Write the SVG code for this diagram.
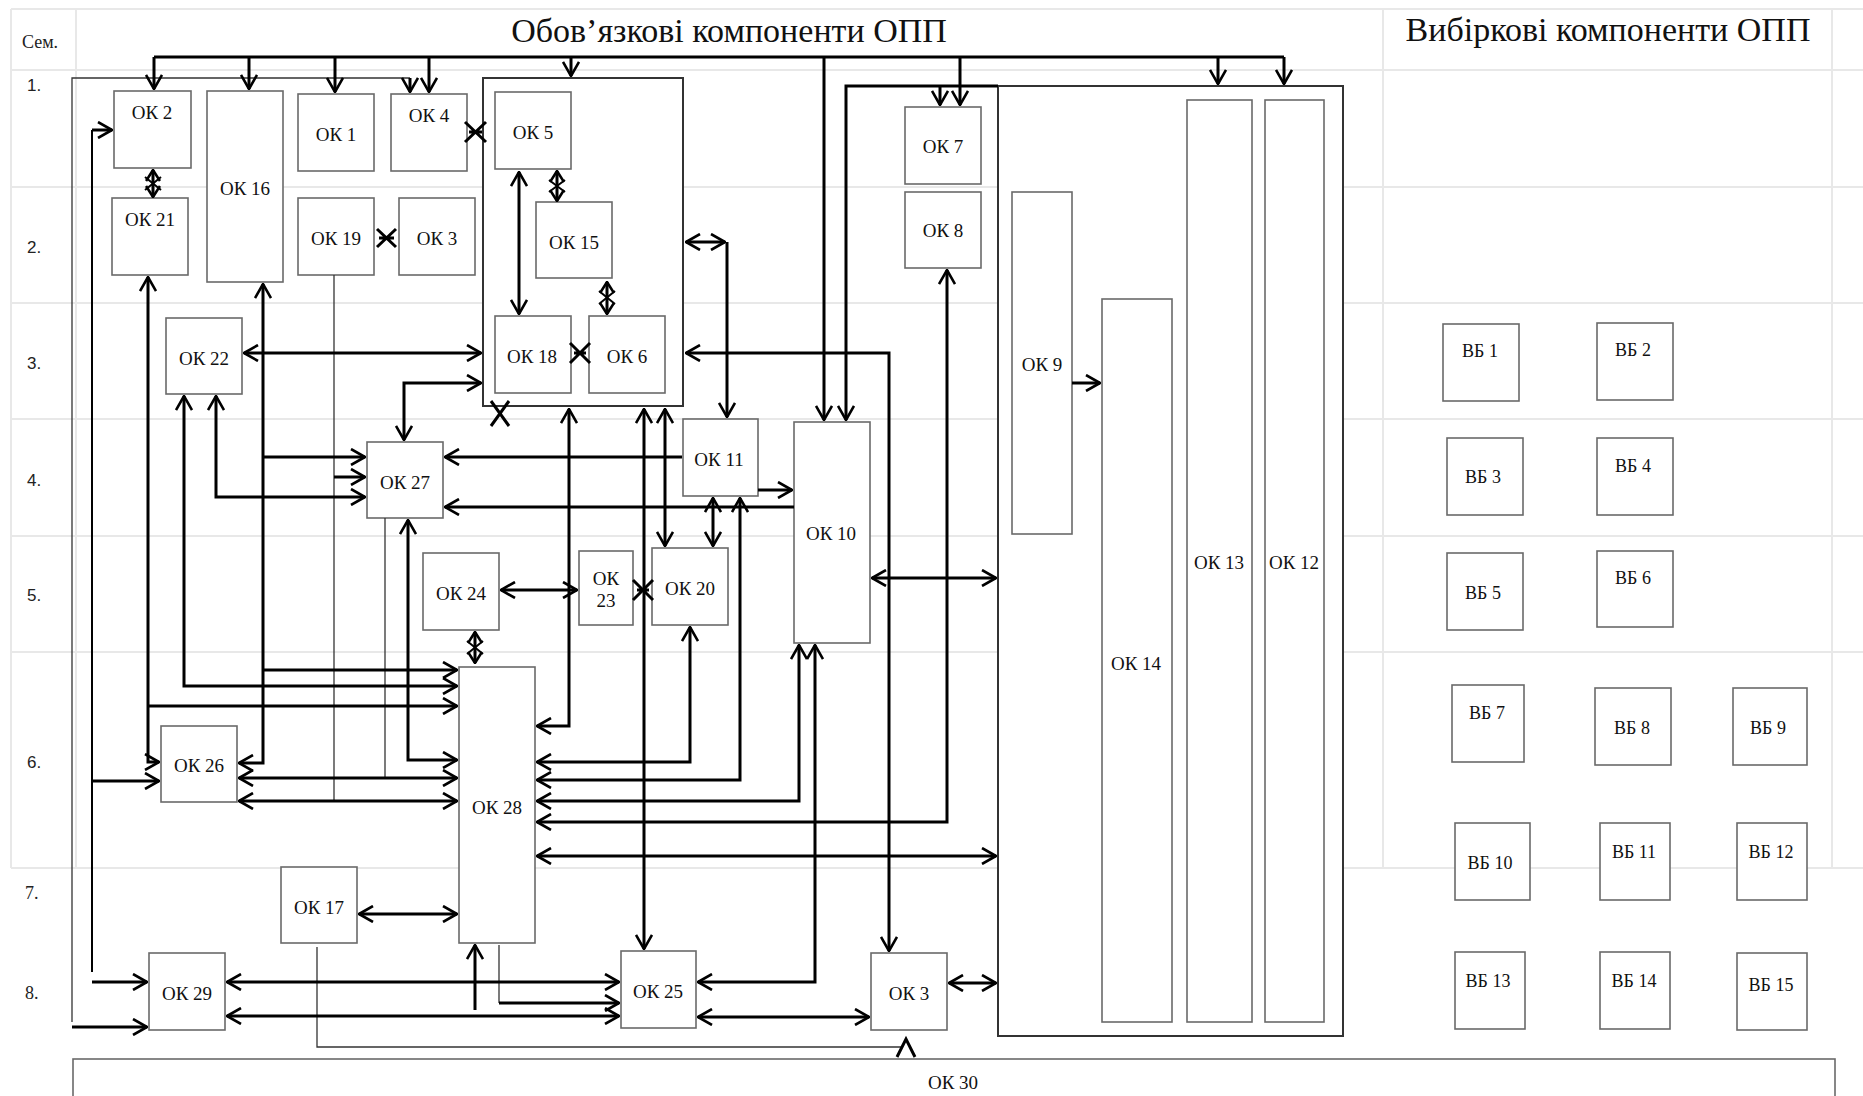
<svg xmlns="http://www.w3.org/2000/svg" width="1863" height="1096" viewBox="0 0 1863 1096">
<style>
.grid{stroke:#e8e8e8;stroke-width:2;fill:none}
.box{fill:#fff;stroke:#6a6a6a;stroke-width:1.6}
.frame{fill:#fff;stroke:#333;stroke-width:2}
.c{fill:none;stroke:#000;stroke-width:3}
.ab{marker-start:url(#a);marker-end:url(#a)}
.ae{marker-end:url(#a)}
.as{marker-start:url(#a)}
.d{fill:none;stroke:#000;stroke-width:3;marker-start:url(#s);marker-end:url(#s)}
.x{fill:none;stroke:#000;stroke-width:3}
.thin{fill:none;stroke:#333;stroke-width:1.3}
.lbl{font-family:"Liberation Serif","Times New Roman",serif;font-size:19px;text-anchor:middle;fill:#111}
.vb{font-family:"Liberation Serif","Times New Roman",serif;font-size:18px;text-anchor:middle;fill:#111}
.row{font-family:"Liberation Sans",Arial,sans-serif;font-size:17px;fill:#222}
.title{font-family:"Liberation Serif","Times New Roman",serif;font-size:34px;text-anchor:middle;fill:#111}
</style>
<defs>
<marker id="a" viewBox="0 0 16 18" markerWidth="16" markerHeight="18" refX="15" refY="9" orient="auto-start-reverse" markerUnits="userSpaceOnUse"><path d="M1,1 L15,9 L1,17" fill="none" stroke="#000" stroke-width="2.6"/></marker>
<marker id="s" viewBox="0 0 13 16" markerWidth="13" markerHeight="16" refX="12" refY="8" orient="auto-start-reverse" markerUnits="userSpaceOnUse"><path d="M1,1 L12,8 L1,15" fill="none" stroke="#000" stroke-width="2.6"/></marker>
</defs>
<rect width="1863" height="1096" fill="#fff"/>
<g id="grid">
<path class="grid" d="M11,9 H1863 M11,70 H1863 M11,187 H1863 M11,303 H1863 M11,419 H1863 M11,536 H1863 M11,652 H1863 M11,868 H1863 M11,9 V868 M76,9 V868 M1383,9 V868 M1832,9 V868"/>
<text class="row" x="22" y="48" style="font-family:'Liberation Serif',serif;font-size:18px">Сем.</text>
<text class="row" x="27" y="91">1.</text>
<text class="row" x="27" y="253">2.</text>
<text class="row" x="27" y="369">3.</text>
<text class="row" x="27" y="486">4.</text>
<text class="row" x="27" y="601">5.</text>
<text class="row" x="27" y="768">6.</text>
<text class="row" x="25" y="899" style="font-family:'Liberation Serif',serif;font-size:18px">7.</text>
<text class="row" x="25" y="999" style="font-family:'Liberation Serif',serif;font-size:18px">8.</text>
<text class="title" x="729" y="42">Обов’язкові компоненти ОПП</text>
<text class="title" x="1608" y="41">Вибіркові компоненти ОПП</text>
</g>
<g id="containers">
<rect id="ok5-group" class="frame" x="483" y="78" width="200" height="328"/>
<rect id="ok9-group" class="frame" x="998" y="86" width="345" height="950"/>
</g>
<g id="nodes">
<g id="ok2"><rect class="box" x="114" y="91" width="77" height="77"/><text class="lbl" x="152" y="119">ОК 2</text></g>
<g id="ok16"><rect class="box" x="207" y="91" width="76" height="191"/><text class="lbl" x="245" y="195">ОК 16</text></g>
<g id="ok1"><rect class="box" x="298" y="94" width="76" height="77"/><text class="lbl" x="336" y="141">ОК 1</text></g>
<g id="ok4"><rect class="box" x="391" y="94" width="76" height="77"/><text class="lbl" x="429" y="122">ОК 4</text></g>
<g id="ok5"><rect class="box" x="495" y="92" width="76" height="77"/><text class="lbl" x="533" y="139">ОК 5</text></g>
<g id="ok21"><rect class="box" x="112" y="198" width="76" height="77"/><text class="lbl" x="150" y="226">ОК 21</text></g>
<g id="ok19"><rect class="box" x="298" y="198" width="76" height="77"/><text class="lbl" x="336" y="245">ОК 19</text></g>
<g id="ok3a"><rect class="box" x="399" y="198" width="76" height="77"/><text class="lbl" x="437" y="245">ОК 3</text></g>
<g id="ok15"><rect class="box" x="536" y="202" width="76" height="76"/><text class="lbl" x="574" y="249">ОК 15</text></g>
<g id="ok22"><rect class="box" x="166" y="318" width="76" height="76"/><text class="lbl" x="204" y="365">ОК 22</text></g>
<g id="ok18"><rect class="box" x="495" y="316" width="76" height="77"/><text class="lbl" x="532" y="363">ОК 18</text></g>
<g id="ok6"><rect class="box" x="589" y="316" width="76" height="77"/><text class="lbl" x="627" y="363">ОК 6</text></g>
<g id="ok7"><rect class="box" x="905" y="107" width="76" height="77"/><text class="lbl" x="943" y="153">ОК 7</text></g>
<g id="ok8"><rect class="box" x="905" y="192" width="76" height="76"/><text class="lbl" x="943" y="237">ОК 8</text></g>
<g id="ok9"><rect class="box" x="1012" y="192" width="60" height="342"/><text class="lbl" x="1042" y="371">ОК 9</text></g>
<g id="ok14"><rect class="box" x="1102" y="299" width="70" height="723"/><text class="lbl" x="1136" y="670">ОК 14</text></g>
<g id="ok13"><rect class="box" x="1187" y="100" width="65" height="922"/><text class="lbl" x="1219" y="569">ОК 13</text></g>
<g id="ok12"><rect class="box" x="1265" y="100" width="59" height="922"/><text class="lbl" x="1294" y="569">ОК 12</text></g>
<g id="ok27"><rect class="box" x="367" y="442" width="76" height="76"/><text class="lbl" x="405" y="489">ОК 27</text></g>
<g id="ok11"><rect class="box" x="683" y="419" width="75" height="77"/><text class="lbl" x="719" y="466">ОК 11</text></g>
<g id="ok10"><rect class="box" x="794" y="422" width="76" height="221"/><text class="lbl" x="831" y="540">ОК 10</text></g>
<g id="ok24"><rect class="box" x="423" y="553" width="76" height="77"/><text class="lbl" x="461" y="600">ОК 24</text></g>
<g id="ok23"><rect class="box" x="579" y="551" width="54" height="74"/><text class="lbl" x="606" y="585">ОК</text><text class="lbl" x="606" y="607">23</text></g>
<g id="ok20"><rect class="box" x="652" y="548" width="76" height="77"/><text class="lbl" x="690" y="595">ОК 20</text></g>
<g id="ok26"><rect class="box" x="161" y="726" width="76" height="76"/><text class="lbl" x="199" y="772">ОК 26</text></g>
<g id="ok28"><rect class="box" x="459" y="667" width="76" height="276"/><text class="lbl" x="497" y="814">ОК 28</text></g>
<g id="ok17"><rect class="box" x="281" y="867" width="76" height="76"/><text class="lbl" x="319" y="914">ОК 17</text></g>
<g id="ok29"><rect class="box" x="149" y="953" width="76" height="77"/><text class="lbl" x="187" y="1000">ОК 29</text></g>
<g id="ok25"><rect class="box" x="621" y="951" width="75" height="77"/><text class="lbl" x="658" y="998">ОК 25</text></g>
<g id="ok3b"><rect class="box" x="871" y="953" width="76" height="77"/><text class="lbl" x="909" y="1000">ОК 3</text></g>
<g id="ok30"><rect class="box" x="73" y="1059" width="1762" height="60"/><text class="lbl" x="953" y="1089">ОК 30</text></g>
<g id="vb1"><rect class="box" x="1443" y="324" width="76" height="77"/><text class="vb" x="1480" y="357">ВБ 1</text></g>
<g id="vb2"><rect class="box" x="1597" y="323" width="76" height="77"/><text class="vb" x="1633" y="356">ВБ 2</text></g>
<g id="vb3"><rect class="box" x="1447" y="438" width="76" height="77"/><text class="vb" x="1483" y="483">ВБ 3</text></g>
<g id="vb4"><rect class="box" x="1597" y="438" width="76" height="77"/><text class="vb" x="1633" y="472">ВБ 4</text></g>
<g id="vb5"><rect class="box" x="1447" y="553" width="76" height="77"/><text class="vb" x="1483" y="599">ВБ 5</text></g>
<g id="vb6"><rect class="box" x="1597" y="551" width="76" height="76"/><text class="vb" x="1633" y="584">ВБ 6</text></g>
<g id="vb7"><rect class="box" x="1452" y="685" width="72" height="77"/><text class="vb" x="1487" y="719">ВБ 7</text></g>
<g id="vb8"><rect class="box" x="1595" y="688" width="76" height="77"/><text class="vb" x="1632" y="734">ВБ 8</text></g>
<g id="vb9"><rect class="box" x="1733" y="688" width="74" height="77"/><text class="vb" x="1768" y="734">ВБ 9</text></g>
<g id="vb10"><rect class="box" x="1455" y="823" width="75" height="77"/><text class="vb" x="1490" y="869">ВБ 10</text></g>
<g id="vb11"><rect class="box" x="1600" y="823" width="70" height="77"/><text class="vb" x="1634" y="858">ВБ 11</text></g>
<g id="vb12"><rect class="box" x="1737" y="823" width="70" height="77"/><text class="vb" x="1771" y="858">ВБ 12</text></g>
<g id="vb13"><rect class="box" x="1455" y="952" width="70" height="77"/><text class="vb" x="1488" y="987">ВБ 13</text></g>
<g id="vb14"><rect class="box" x="1600" y="952" width="70" height="77"/><text class="vb" x="1634" y="987">ВБ 14</text></g>
<g id="vb15"><rect class="box" x="1737" y="953" width="70" height="77"/><text class="vb" x="1771" y="991">ВБ 15</text></g>
</g>
<g id="connectors">
<path class="thin" d="M72,1022 V78 H410"/>
<path class="thin" d="M334,275 V801"/>
<path class="thin" d="M385,518 V777"/>
<path class="thin" d="M499,945 V1003"/>
<path class="thin" d="M317,947 V1047 H902"/>
<path class="c" style="stroke-width:2" d="M92,130 V972"/>
<path class="c" d="M154,57 H1284"/>
<path class="c ae" d="M154,57 V89"/>
<path class="c ae" d="M249,57 V89"/>
<path class="c ae" d="M335,57 V92"/>
<path class="c ae" d="M429,57 V92"/>
<path class="c ae" d="M410,78 V92"/>
<path class="c ae" d="M571,57 V76"/>
<path class="c ae" d="M824,57 V420"/>
<path class="c ae" d="M960,57 V105"/>
<path class="c ae" d="M1218,57 V84"/>
<path class="c ae" d="M1284,57 V84"/>
<path class="c ae" d="M998,86 H846 V420"/>
<path class="c ae" d="M940,86 V105"/>
<path class="c ae" d="M92,130 H112"/>
<path class="c ae" d="M92,781 H159"/>
<path class="c ae" d="M92,982 H147"/>
<path class="c ae" d="M72,1027 H147"/>
<path class="c ab" d="M148,277 V762 H159"/>
<path class="c ae" d="M148,706 H457"/>
<path class="c ab" d="M263,284 V763 H239"/>
<path class="c ae" d="M263,457 H365"/>
<path class="c ae" d="M263,670 H457"/>
<path class="c ab" d="M184,396 V686 H457"/>
<path class="c ab" d="M216,396 V497 H365"/>
<path class="c ae" d="M334,477 H365"/>
<path class="c ab" d="M244,353 H481"/>
<path class="c ab" d="M404,440 V383 H481"/>
<path class="c ab" d="M408,520 V760 H457"/>
<path class="c ab" d="M239,778 H457"/>
<path class="c ab" d="M239,801 H457"/>
<path class="c ab" d="M359,914 H457"/>
<path class="c ae" d="M475,1010 V945"/>
<path class="c ae" d="M499,1003 H619"/>
<path class="c ab" d="M227,982 H619"/>
<path class="c ab" d="M227,1016 H619"/>
<path class="c ab" d="M698,1017 H869"/>
<path class="c ab" d="M698,982 H815 V645"/>
<polyline class="x" points="897,1057 906,1039 915,1057"/>
<path class="c ab" d="M519,172 V314"/>
<path class="d" d="M153,170 V197"/>
<path class="x" style="stroke-width:2" d="M145,177 L161,190 M161,177 L145,190"/>
<path class="d" d="M557,171 V201"/>
<path class="x" style="stroke-width:2" d="M549,180 L565,192 M565,180 L549,192"/>
<path class="d" d="M607,282 V314"/>
<path class="x" style="stroke-width:2" d="M599,291 L615,304 M615,291 L599,304"/>
<path class="d" d="M475,632 V663"/>
<path class="x" style="stroke-width:2" d="M467,641 L483,654 M483,641 L467,654"/>
<path class="x" d="M465,122 L486,142 M486,122 L465,142 M469,132 H482"/>
<path class="x" d="M377,229 L396,247 M396,229 L377,247 M379,238 H394"/>
<path class="x" d="M570,343 L590,363 M590,343 L570,363 M574,353 H586"/>
<path class="x" d="M633,580 L653,600 M653,580 L633,600 M637,590 H649"/>
<path class="x" d="M491,401 L509,426 M509,401 L491,426"/>
<path class="c ab" d="M686,242 H725"/>
<path class="c ae" d="M727,242 V417"/>
<path class="c ab" d="M686,353 H889 V951"/>
<path class="c ab" d="M569,409 V726 H537"/>
<path class="c ab" d="M644,409 V949"/>
<path class="c ab" d="M665,409 V546"/>
<path class="c ae" d="M682,457 H445"/>
<path class="c ae" d="M794,507 H445"/>
<path class="c ae" d="M758,490 H792"/>
<path class="c ab" d="M713,498 V546"/>
<path class="c ab" d="M740,498 V780 H537"/>
<path class="c ab" d="M690,627 V762 H537"/>
<path class="c ab" d="M799,645 V801 H537"/>
<path class="c ab" d="M947,270 V822 H537"/>
<path class="c ab" d="M537,856 H996"/>
<path class="c ab" d="M872,578 H996"/>
<path class="c ab" d="M949,983 H996"/>
<path class="c ab" d="M501,590 H577"/>
<path class="c ae" d="M1072,383 H1100"/>
</g>
</svg>
